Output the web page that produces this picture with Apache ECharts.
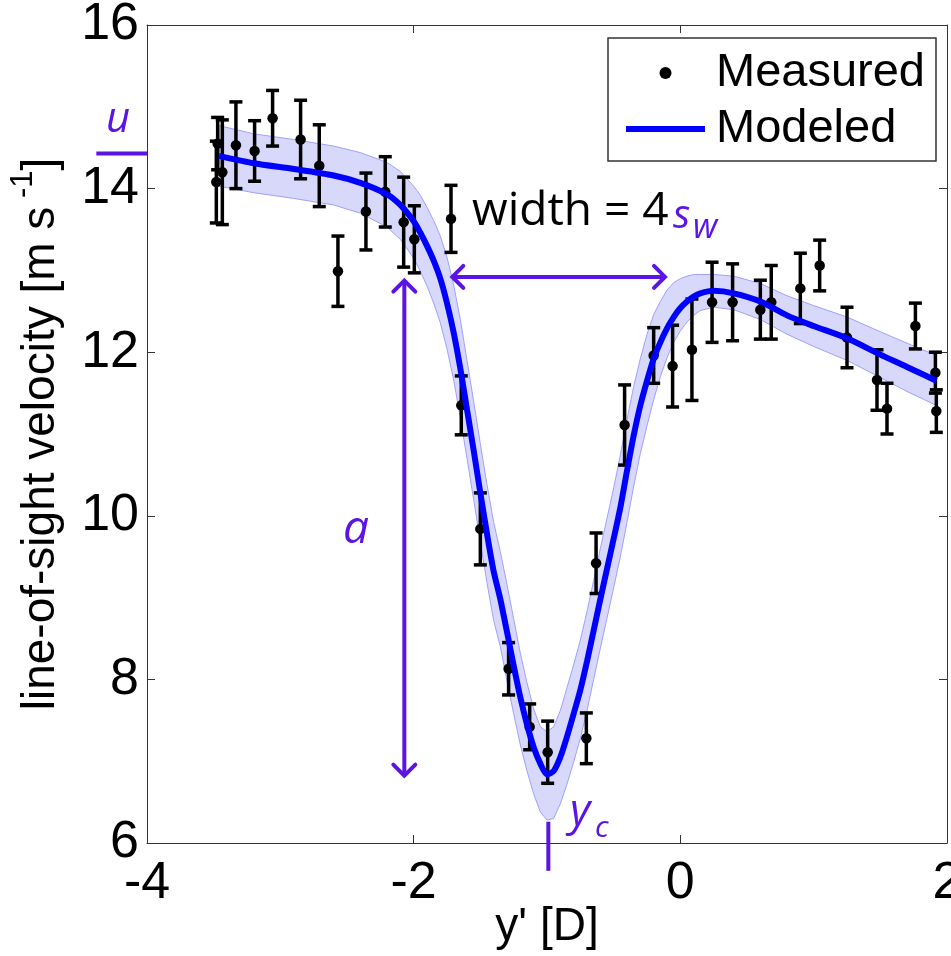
<!DOCTYPE html>
<html><head><meta charset="utf-8">
<script src="https://cdn.jsdelivr.net/npm/echarts@6/dist/echarts.min.js"></script>
<style>html,body{margin:0;padding:0;background:#fff}#c{width:951px;height:956px}</style>
</head><body><div id="c"></div>
<script>
// ---- data ----
const xTickLabels = ['-4', '-2', '0', '2'];
const yTickLabels = ['6', '8', '10', '12', '14', '16'];

const measX = [-3.48,-3.435,-3.47,-3.333,-3.193,-3.058,-2.848,-2.708,-2.568,-2.358,-2.213,-2.075,-1.995,-1.72,-1.643,-1.50,-1.288,-1.13,-0.995,-0.705,-0.632,-0.418,-0.20,-0.058,0.087,0.238,0.392,0.60,0.682,0.90,1.045,1.25,1.475,1.55,1.763,1.913,1.92];
const measY = [14.08,14.20,14.55,14.53,14.46,14.86,14.60,14.28,12.99,13.72,13.96,13.59,13.38,13.63,11.35,9.84,8.13,7.42,7.11,7.28,9.42,11.11,11.96,11.83,12.03,12.61,12.61,12.52,12.61,12.78,13.06,12.18,11.66,11.31,12.32,11.75,11.28];
const measErr = [0.50,0.64,0.32,0.53,0.37,0.34,0.48,0.50,0.43,0.47,0.43,0.55,0.41,0.41,0.36,0.44,0.32,0.28,0.38,0.31,0.37,0.49,0.34,0.50,0.62,0.49,0.47,0.36,0.45,0.43,0.31,0.37,0.37,0.31,0.28,0.25,0.26];

const modelX = [-3.46,-3.2,-2.9,-2.6,-2.4,-2.2,-2.1,-2.0,-1.95,-1.9,-1.85,-1.8,-1.75,-1.7,-1.65,-1.6,-1.55,-1.5,-1.45,-1.4,-1.35,-1.3,-1.25,-1.2,-1.15,-1.1,-1.05,-1.0,-0.95,-0.9,-0.85,-0.8,-0.75,-0.7,-0.65,-0.6,-0.55,-0.5,-0.45,-0.4,-0.35,-0.3,-0.25,-0.2,-0.15,-0.1,-0.05,0,0.05,0.1,0.15,0.25,0.4,0.6,0.8,1.0,1.25,1.5,1.7,1.92];
const modelY = [14.40,14.31,14.24,14.16,14.07,13.93,13.80,13.60,13.46,13.30,13.12,12.90,12.60,12.24,11.80,11.30,10.80,10.28,9.78,9.32,8.98,8.58,8.17,7.78,7.45,7.17,6.97,6.84,6.88,7.05,7.30,7.58,7.87,8.22,8.60,8.98,9.35,9.72,10.10,10.55,10.98,11.35,11.65,11.92,12.12,12.29,12.43,12.54,12.62,12.68,12.72,12.75,12.72,12.62,12.45,12.32,12.17,11.97,11.82,11.65];
const bandUpper = [14.77,14.67,14.60,14.52,14.44,14.32,14.21,14.03,13.92,13.77,13.61,13.42,13.16,12.82,12.40,11.90,11.40,10.88,10.38,9.92,9.56,9.16,8.74,8.32,7.96,7.64,7.42,7.36,7.42,7.62,7.90,8.18,8.48,8.83,9.21,9.60,9.97,10.34,10.74,11.18,11.58,11.92,12.22,12.46,12.62,12.76,12.85,12.90,12.93,12.95,12.95,12.95,12.93,12.84,12.69,12.57,12.43,12.25,12.11,11.96];
const bandLower = [14.03,13.95,13.88,13.80,13.70,13.53,13.38,13.15,12.99,12.81,12.60,12.36,12.04,11.66,11.20,10.70,10.20,9.68,9.18,8.72,8.40,7.98,7.58,7.20,6.88,6.60,6.38,6.28,6.30,6.48,6.72,6.99,7.28,7.62,8.00,8.38,8.75,9.12,9.50,9.92,10.36,10.76,11.10,11.42,11.70,11.93,12.12,12.26,12.37,12.45,12.51,12.55,12.52,12.40,12.22,12.07,11.90,11.69,11.52,11.35];

// annotation anchors (data units)
const uValue = 14.43;
const uLineX = [-4.38, -4.0];
const ycValue = -0.99;
const ycLineY = [6.26, 5.66];
const aArrowX = -2.07;
const aArrowY = [12.90, 6.80];
const wArrowY = 12.92;
const wArrowX = [-1.725, -0.10];

// ---- chart ----
const PURPLE = '#5b14e6';
const AX = '#333';
const chart = echarts.init(document.getElementById('c'), null, {renderer: 'canvas'});

const measData = measX.map((x, i) => [x, measY[i], measErr[i]]);
const modelData = modelX.map((x, i) => [x, modelY[i]]);
const bandData = modelX.map((x, i) => [x, bandUpper[i], bandLower[i]]);

function xLabel(v) { const i = Math.round((v + 4) / 2); return xTickLabels[i] ?? ''; }
function yLabel(v) { const i = Math.round((v - 6) / 2); return yTickLabels[i] ?? ''; }

const baseAxis = {
  axisLine: {show: true, onZero: false, lineStyle: {color: AX, width: 1}},
  axisTick: {show: true, inside: true, length: 8, lineStyle: {color: AX, width: 1}},
  splitLine: {show: false},
  minorTick: {show: false}
};

const option = {
  animation: false,
  backgroundColor: '#fff',
  grid: {left: 147, right: 4, top: 25, bottom: 113, containLabel: false, outerBoundsMode: 'none'},
  xAxis: [
    Object.assign({}, baseAxis, {
      type: 'value', min: -4, max: 2, interval: 2, position: 'bottom',
      axisLabel: {formatter: xLabel, fontFamily: 'Liberation Sans', fontSize: 52, color: '#000', margin: 15},
      name: "y' [D]", nameLocation: 'middle', nameGap: 61, nameMoveOverlap: false,
      nameTextStyle: {fontFamily: 'Liberation Sans', fontSize: 46, color: '#000'}
    }),
    Object.assign({}, baseAxis, {
      type: 'value', min: -4, max: 2, interval: 2, position: 'top',
      axisLabel: {show: false}
    })
  ],
  yAxis: [
    Object.assign({}, baseAxis, {
      type: 'value', min: 6, max: 16, interval: 2, position: 'left',
      axisLabel: {formatter: yLabel, fontFamily: 'Liberation Sans', fontSize: 52, color: '#000', margin: 8},
      name: '{n|line-of-sight velocity [m s}{sup| -1}{n|]}', nameLocation: 'middle', nameGap: 83, nameMoveOverlap: false,
      nameTextStyle: {
        color: '#000',
        rich: {
          n: {fontFamily: 'Liberation Sans', fontSize: 46, color: '#000', lineHeight: 56, verticalAlign: 'bottom'},
          sup: {fontFamily: 'Liberation Sans', fontSize: 31, color: '#000', lineHeight: 32, verticalAlign: 'top'}
        }
      }
    }),
    Object.assign({}, baseAxis, {
      type: 'value', min: 6, max: 16, interval: 2, position: 'right',
      axisLabel: {show: false}
    })
  ],
  legend: {
    show: true, orient: 'vertical', left: 608, top: 38,
    padding: [7, 11, 4, 15], itemGap: 0, itemWidth: 79, itemHeight: 12,
    borderColor: '#333', borderWidth: 1.5, backgroundColor: '#fff',
    selectedMode: false, z: 20,
    textStyle: {fontFamily: 'Liberation Sans', fontSize: 47, color: '#000', lineHeight: 56, padding: [0, 0, 0, 6]},
    data: [
      {name: 'Measured', icon: 'circle', itemStyle: {color: '#000', opacity: 1}},
      {name: 'Modeled', itemStyle: {opacity: 0}, lineStyle: {color: '#0000ff', width: 6, opacity: 1}}
    ]
  },
  series: [
    {
      type: 'custom', name: 'band', silent: true, z: 1,
      encode: {x: 0, y: [1, 2]},
      data: bandData,
      renderItem: function (params, api) {
        if (params.dataIndex !== 0) return null;
        const pts = [];
        for (let i = 0; i < bandData.length; i++) pts.push(api.coord([bandData[i][0], bandData[i][1]]));
        for (let i = bandData.length - 1; i >= 0; i--) pts.push(api.coord([bandData[i][0], bandData[i][2]]));
        return {type: 'polygon', shape: {points: pts}, style: {fill: '#d8d8fb', stroke: '#a0a0ff', lineWidth: 1}};
      }
    },
    {
      type: 'custom', name: 'errorbars', silent: true, z: 3,
      encode: {x: 0, y: [1]},
      data: measData,
      renderItem: function (params, api) {
        const x = api.value(0), y = api.value(1), e = api.value(2);
        const t = api.coord([x, y + e]), b = api.coord([x, y - e]);
        const hw = 6.5;
        const st = {stroke: '#000', lineWidth: 3.5};
        return {type: 'group', children: [
          {type: 'line', shape: {x1: t[0], y1: t[1], x2: b[0], y2: b[1]}, style: st},
          {type: 'line', shape: {x1: t[0] - hw, y1: t[1], x2: t[0] + hw, y2: t[1]}, style: st},
          {type: 'line', shape: {x1: b[0] - hw, y1: b[1], x2: b[0] + hw, y2: b[1]}, style: st}
        ]};
      }
    },
    {
      type: 'scatter', name: 'Measured', z: 4,
      symbol: 'circle', symbolSize: 10.5,
      itemStyle: {color: '#000', opacity: 1},
      data: measData.map(d => [d[0], d[1]])
    },
    {
      type: 'line', name: 'Modeled', z: 5,
      symbol: 'none', showSymbol: false, smooth: 0.25,
      lineStyle: {color: '#0000ff', width: 6},
      itemStyle: {color: '#0000ff'},
      data: modelData
    }
  ]
};
chart.setOption(option);

// ---- annotations placed through the chart's own scales ----
function P(v) { return chart.convertToPixel({xAxisIndex: 0, yAxisIndex: 0}, v); }
const g = [];
const lw = 4;
function seg(a, b) { g.push({type: 'line', z: 30, shape: {x1: a[0], y1: a[1], x2: b[0], y2: b[1]}, style: {stroke: PURPLE, lineWidth: lw}}); }
function chev(tip, dir) {
  const s = 11, o = 2;
  let pts;
  if (dir === 'up') pts = [[tip[0] - s, tip[1] + o + s], [tip[0], tip[1] + o], [tip[0] + s, tip[1] + o + s]];
  if (dir === 'down') pts = [[tip[0] - s, tip[1] - o - s], [tip[0], tip[1] - o], [tip[0] + s, tip[1] - o - s]];
  if (dir === 'left') pts = [[tip[0] + o + s, tip[1] - s], [tip[0] + o, tip[1]], [tip[0] + o + s, tip[1] + s]];
  if (dir === 'right') pts = [[tip[0] - o - s, tip[1] - s], [tip[0] - o, tip[1]], [tip[0] - o - s, tip[1] + s]];
  g.push({type: 'polyline', z: 30, shape: {points: pts}, style: {stroke: PURPLE, lineWidth: lw, fill: null, lineJoin: 'miter', lineCap: 'round'}});
}
const aT = P([aArrowX, aArrowY[0]]), aB = P([aArrowX, aArrowY[1]]);
seg([aT[0], aT[1] + 3], [aB[0], aB[1] - 3]); chev(aT, 'up'); chev(aB, 'down');
const wL = P([wArrowX[0], wArrowY]), wR = P([wArrowX[1], wArrowY]);
seg([wL[0] + 3, wL[1]], [wR[0] - 3, wR[1]]); chev(wL, 'left'); chev(wR, 'right');
seg(P([uLineX[0], uValue]), P([uLineX[1], uValue]));
seg(P([ycValue, ycLineY[0]]), P([ycValue, ycLineY[1]]));

function txt(x, y, text, font, fill, align) {
  g.push({type: 'text', z: 31, x: x, y: y, style: {text: text, font: font, fill: fill, align: align || 'left', verticalAlign: 'middle'}});
}
txt(472, 212, 'width = 4', '46px "Open Sans"', '#000');
txt(673, 217, 's', 'italic 40px "Open Sans"', PURPLE);
txt(693, 228, 'w', 'italic 34px "Open Sans"', PURPLE);
txt(343, 530, 'a', 'italic 46px "Open Sans"', PURPLE);
txt(106, 120, 'u', 'italic 42px "Open Sans"', PURPLE);
txt(570, 812, 'y', 'italic 44px "Open Sans"', PURPLE);
txt(595, 828, 'c', 'italic 30px "Open Sans"', PURPLE);
chart.setOption({graphic: {elements: g}});
</script>
</body></html>
